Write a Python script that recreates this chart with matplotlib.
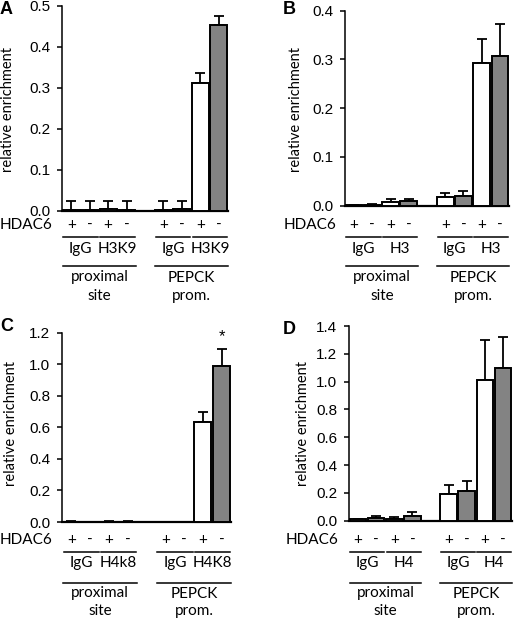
import matplotlib
matplotlib.use("Agg")
import matplotlib.pyplot as plt
from matplotlib.lines import Line2D
from matplotlib.transforms import blended_transform_factory
import numpy as np

# ---------------- data ----------------
positions = [0, 1, 2, 3, 5, 6, 7, 8]
hdac6 = ['+', '-', '+', '-', '+', '-', '+', '-']
sites = ['proximal', 'PEPCK']
sites2 = ['site', 'prom.']

A_vals = [0.002, 0.002, 0.003, 0.002, 0.002, 0.003, 0.311, 0.452]
A_err = [0.021, 0.021, 0.021, 0.021, 0.021, 0.021, 0.025, 0.024]
A_ab = ['IgG', 'H3K9', 'IgG', 'H3K9']

B_vals = [0.001, 0.002, 0.008, 0.010, 0.017, 0.020, 0.292, 0.306]
B_err = [0.001, 0.001, 0.005, 0.004, 0.008, 0.009, 0.050, 0.067]
B_ab = ['IgG', 'H3', 'IgG', 'H3']

C_vals = [0.002, 0.001, 0.002, 0.003, 0.001, 0.001, 0.637, 0.989]
C_err = [0.002, 0.002, 0.002, 0.002, 0.002, 0.002, 0.063, 0.106]
C_ab = ['IgG', 'H4k8', 'IgG', 'H4K8']

D_vals = [0.010, 0.022, 0.014, 0.034, 0.193, 0.210, 1.012, 1.096]
D_err = [0.004, 0.012, 0.014, 0.026, 0.065, 0.077, 0.288, 0.223]
D_ab = ['IgG', 'H4', 'IgG', 'H4']

W, H = 520, 619
TXT = ['Lato', 'DejaVu Sans']
NUM = ['Liberation Sans', 'DejaVu Sans']
WHITE = '#ffffff'
GRAY = '#838383'
FS = 11

fig = plt.figure(figsize=(W / 100, H / 100), dpi=100)


def fx(x):
    return x / W


def fy(y):
    return 1 - y / H


def panel(letter, vals, err, abs_, box, ymax, ystep, rows, hd_x, hd_ha,
          ylab_x, ylab_y, let_xy, star=False):
    l, r, t, b = box
    ax = fig.add_axes([fx(l), fy(b), (r - l) / W, (b - t) / H])
    colors = [WHITE if s == '+' else GRAY for s in hdac6]
    ax.bar(positions, vals, width=0.92, color=colors, edgecolor='black',
           linewidth=1.4, zorder=3)
    ax.errorbar(positions, vals, yerr=[np.zeros(len(vals)), err], fmt='none',
                ecolor='black', elinewidth=1.3, capsize=3.6, capthick=1.3,
                zorder=2)
    ax.set_xlim(-0.5, 8.5)
    ax.set_ylim(0, ymax)
    ticks = np.arange(0, ymax + ystep / 2, ystep)
    ax.set_yticks(ticks)
    ax.set_yticklabels([f'{v:.1f}' for v in ticks], family=NUM, fontsize=11)
    ax.set_xticks([])
    for s in ['top', 'right']:
        ax.spines[s].set_visible(False)
    ax.spines['left'].set_linewidth(1.1)
    ax.spines['bottom'].set_linewidth(1.6)
    ax.tick_params(axis='y', direction='out', length=3.6, width=1.1, pad=5)
    ax.patch.set_alpha(0)

    tr = blended_transform_factory(ax.transData, fig.transFigure)
    y_pm, y_l1, y_ab, y_l2, y_s1, y_s2 = rows
    for p, s in zip(positions, hdac6):
        ax.text(p, fy(y_pm), s, transform=tr, ha='center', va='center',
                family=TXT, fontsize=FS)
    pairs = [(0, 1), (2, 3), (5, 6), (7, 8)]
    for (a, c), lab in zip(pairs, abs_):
        x0, x1 = a - 0.42, c + 0.46
        ax.add_line(Line2D([x0, x1], [fy(y_l1)] * 2, transform=tr,
                           color='black', lw=1.1, clip_on=False))
        ax.text((x0 + x1) / 2, fy(y_ab), lab, transform=tr, ha='center',
                va='center', family=TXT, fontsize=FS)
    for (a, c), s1, s2 in zip([(0, 3), (5, 8)], sites, sites2):
        x0, x1 = a - 0.45, c + 0.5
        ax.add_line(Line2D([x0, x1], [fy(y_l2)] * 2, transform=tr,
                           color='black', lw=1.1, clip_on=False))
        ax.text((x0 + x1) / 2, fy(y_s1), s1, transform=tr, ha='center',
                va='center', family=TXT, fontsize=FS)
        ax.text((x0 + x1) / 2, fy(y_s2), s2, transform=tr, ha='center',
                va='center', family=TXT, fontsize=FS)
    fig.text(fx(hd_x), fy(y_pm), 'HDAC6', ha=hd_ha, va='center',
             family=TXT, fontsize=FS)
    fig.text(fx(ylab_x), fy(ylab_y), 'relative enrichment', rotation=90,
             ha='center', va='center', family=TXT, fontsize=10.5)
    fig.text(fx(let_xy[0]), fy(let_xy[1]), letter, ha='left', va='center',
             family=NUM, fontsize=13, fontweight='bold')
    if star:
        ax.text(positions[-1], vals[-1] + err[-1] + 0.03, '*', ha='center',
                va='bottom', family=NUM, fontsize=12)
    return ax


rows_top = (225, 237, 249, 266.5, 277.5, 296)
rows_bot = (540, 551.5, 563, 583, 593.5, 611)

panel('A', A_vals, A_err, A_ab, (62, 228, 5.7, 210.7), 0.5, 0.1, rows_top,
      0, 'left', 8.5, 110, (0, 9))
panel('B', B_vals, B_err, B_ab, (345, 509, 10.7, 205.5), 0.4, 0.1, rows_top,
      336, 'right', 296, 110, (283, 10))
panel('C', C_vals, C_err, C_ab, (62, 231, 332.7, 522), 1.2, 0.2, rows_bot,
      0, 'left', 11, 424, (0, 326), star=True)
panel('D', D_vals, D_err, D_ab, (349, 512, 326, 520.7), 1.4, 0.2, rows_bot,
      338, 'right', 303, 424, (283, 329))

fig.savefig('out.png', dpi=100)
